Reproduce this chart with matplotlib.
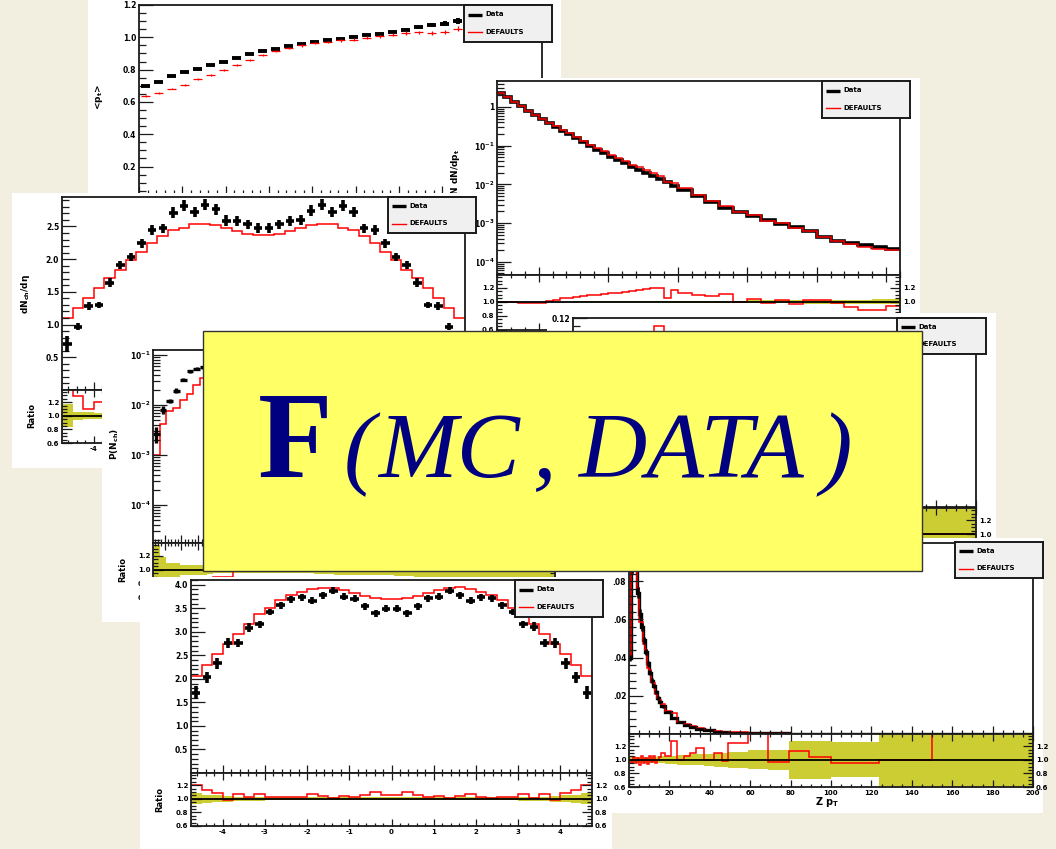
import numpy as np
import matplotlib
matplotlib.use("Agg")
import matplotlib.pyplot as plt
from matplotlib.patches import Rectangle
from matplotlib.ticker import MultipleLocator, LogLocator, FuncFormatter, NullFormatter

W, H = 1056, 849
CREAM = "#f3efe0"
BAND = "#cccc33"
NAVY = "#000080"

# ---- top: <pt> vs Nch
a_edges = np.arange(0, 94, 3)
a_data = [0.697, 0.724, 0.759, 0.786, 0.806, 0.827, 0.847, 0.874, 0.895, 0.915, 0.930,
          0.946, 0.961, 0.971, 0.981, 0.992, 1.001, 1.012, 1.022, 1.032, 1.047, 1.063,
          1.074, 1.084, 1.100, 1.110, 1.120, 1.130, 1.140, 1.150, 1.160]
a_data_err = [0.004, 0.004, 0.004, 0.004, 0.004, 0.004, 0.004, 0.004, 0.004, 0.004, 0.005,
              0.005, 0.005, 0.005, 0.005, 0.006, 0.006, 0.006, 0.007, 0.007, 0.008, 0.010,
              0.012, 0.015, 0.018, 0.020, 0.022, 0.025, 0.028, 0.030, 0.035]
a_mc = [0.636, 0.656, 0.683, 0.703, 0.739, 0.765, 0.796, 0.827, 0.858, 0.889, 0.915,
        0.936, 0.950, 0.964, 0.973, 0.981, 0.985, 0.998, 1.006, 1.016, 1.026, 1.032,
        1.026, 1.032, 1.053, 1.060, 1.070, 1.070, 1.080, 1.090, 1.100]
a_mc_err = [0.006, 0.006, 0.006, 0.006, 0.006, 0.006, 0.006, 0.006, 0.006, 0.006, 0.006,
            0.007, 0.007, 0.007, 0.007, 0.007, 0.008, 0.008, 0.008, 0.009, 0.010, 0.010,
            0.012, 0.012, 0.014, 0.015, 0.016, 0.018, 0.020, 0.022, 0.025]

# ---- dN/dpt (log)
b_edges = [0.4, 0.5, 0.6, 0.7, 0.8, 0.9, 1.0, 1.1, 1.2, 1.3, 1.4, 1.5, 1.6, 1.7, 1.8, 1.9,
           2.0, 2.1, 2.2, 2.3, 2.4, 2.5, 2.6, 2.7, 2.8, 2.9, 3.0, 3.2, 3.4, 3.6, 3.8, 4.0,
           4.2, 4.4, 4.6, 4.8, 5.0, 5.2, 5.4, 5.6, 5.8, 6.0, 6.2]
b_data_log = [0.37, 0.26, 0.14, 0.03, -0.10, -0.21, -0.31, -0.41, -0.51, -0.61, -0.71,
              -0.81, -0.91, -1.01, -1.10, -1.19, -1.28, -1.37, -1.46, -1.55, -1.63, -1.71,
              -1.79, -1.87, -1.95, -2.03, -2.15, -2.31, -2.46, -2.60, -2.71, -2.82, -2.93,
              -3.02, -3.11, -3.21, -3.36, -3.45, -3.51, -3.56, -3.62, -3.68]
b_ratio = [1.00, 1.00, 1.00, 0.99, 0.98, 0.98, 0.98, 1.01, 1.03, 1.05, 1.06, 1.07, 1.08,
           1.09, 1.10, 1.11, 1.12, 1.12, 1.14, 1.15, 1.17, 1.18, 1.19, 1.20, 1.05, 1.17,
           1.12, 1.10, 1.08, 1.11, 1.00, 1.04, 0.98, 1.03, 0.97, 1.02, 1.03, 0.98, 0.92,
           0.89, 0.88, 0.94]
b_band = [0.003, 0.003, 0.003, 0.003, 0.003, 0.003, 0.004, 0.004, 0.004, 0.004, 0.004,
          0.005, 0.005, 0.005, 0.005, 0.006, 0.006, 0.006, 0.007, 0.007, 0.007, 0.008,
          0.008, 0.009, 0.009, 0.010, 0.012, 0.013, 0.014, 0.016, 0.018, 0.019, 0.020,
          0.022, 0.023, 0.025, 0.026, 0.028, 0.030, 0.032, 0.034, 0.036]

# ---- dNch/deta (middle left) and (bottom left)
eta_edges = np.linspace(-4.75, 4.75, 39)
c_data = [0.70, 0.97, 1.28, 1.30, 1.64, 1.91, 2.03, 2.24, 2.45, 2.47, 2.71, 2.82, 2.72,
          2.83, 2.76, 2.59, 2.58, 2.53, 2.48, 2.48, 2.53, 2.58, 2.60, 2.74, 2.83, 2.72,
          2.82, 2.72, 2.47, 2.45, 2.24, 2.03, 1.91, 1.64, 1.30, 1.28, 0.97, 0.70]
c_mc = [1.10, 1.25, 1.41, 1.56, 1.71, 1.83, 1.98, 2.11, 2.24, 2.35, 2.44, 2.48, 2.53,
        2.54, 2.52, 2.48, 2.43, 2.39, 2.37, 2.37, 2.39, 2.43, 2.48, 2.52, 2.54, 2.53,
        2.48, 2.44, 2.35, 2.24, 2.11, 1.98, 1.83, 1.71, 1.56, 1.41, 1.25, 1.10]
c_band = [0.17, 0.06, 0.05, 0.04, 0.04, 0.03, 0.03, 0.03, 0.03, 0.03, 0.03, 0.03, 0.03,
          0.03, 0.03, 0.03, 0.03, 0.03, 0.03, 0.03, 0.03, 0.03, 0.03, 0.03, 0.03, 0.03,
          0.03, 0.03, 0.03, 0.03, 0.03, 0.03, 0.03, 0.04, 0.04, 0.05, 0.06, 0.17]

e_data = [1.71, 2.03, 2.33, 2.76, 2.77, 3.09, 3.16, 3.42, 3.56, 3.69, 3.73, 3.66, 3.78,
          3.87, 3.74, 3.70, 3.54, 3.39, 3.49, 3.49, 3.39, 3.54, 3.71, 3.74, 3.87, 3.78,
          3.66, 3.73, 3.71, 3.56, 3.42, 3.16, 3.11, 2.77, 2.76, 2.33, 2.03, 1.71]
e_mc = [2.07, 2.29, 2.52, 2.73, 2.96, 3.16, 3.37, 3.51, 3.68, 3.78, 3.85, 3.90, 3.92,
        3.92, 3.88, 3.82, 3.76, 3.71, 3.69, 3.69, 3.71, 3.76, 3.82, 3.88, 3.92, 3.95,
        3.90, 3.85, 3.78, 3.68, 3.51, 3.37, 3.16, 2.96, 2.73, 2.52, 2.29, 2.07]
e_band = [0.08, 0.06, 0.05, 0.04, 0.03, 0.03, 0.025, 0.02, 0.02, 0.02, 0.02, 0.02, 0.02,
          0.02, 0.02, 0.02, 0.02, 0.02, 0.02, 0.02, 0.02, 0.02, 0.02, 0.02, 0.02, 0.02,
          0.02, 0.02, 0.02, 0.02, 0.02, 0.025, 0.03, 0.03, 0.04, 0.05, 0.06, 0.08]

# ---- P(Nch) (log)
d_edges = [1.5, 3.5, 5.5, 7.5, 9.5, 11.5, 13.5, 15.5, 17.5, 19.5, 25.5, 31.5, 37.5, 43.5,
           49.5, 55.5, 61.5, 67.5, 73.5, 79.5, 85.5, 91.5, 97.5, 103.5, 109.5, 115.5, 121.5]
d_data_log = [-2.57, -2.10, -1.92, -1.71, -1.49, -1.32, -1.27, -1.24, -1.22, -1.23, -1.30,
              -1.42, -1.58, -1.76, -1.95, -2.15, -2.36, -2.58, -2.80, -3.03, -3.26, -3.50,
              -3.74, -3.98, -4.22, -4.45]
d_mc_log = [-3.00, -2.38, -2.12, -2.05, -1.90, -1.78, -1.60, -1.45, -1.35, -1.28, -1.29,
            -1.43, -1.59, -1.77, -1.96, -2.16, -2.37, -2.59, -2.81, -3.04, -3.27, -3.51,
            -3.75, -3.99, -4.23, -4.46]
d_band = [0.35, 0.18, 0.10, 0.10, 0.07, 0.07, 0.07, 0.07, 0.06, 0.05, 0.04, 0.04, 0.04,
          0.05, 0.06, 0.07, 0.08, 0.08, 0.09, 0.10, 0.10, 0.11, 0.12, 0.12, 0.13, 0.15]

# ---- hidden panel behind the title box
g_edges = np.linspace(0, 100, 41)
g_data = [0.0005, 0.001, 0.008, 0.026, 0.050, 0.075, 0.092, 0.100, 0.102, 0.098, 0.090,
          0.078, 0.065, 0.052, 0.041, 0.032, 0.024, 0.018, 0.013, 0.0095, 0.007, 0.005,
          0.0036, 0.0026, 0.0019, 0.0014, 0.001, 0.0008, 0.0006, 0.0004, 0.0003, 0.00025,
          0.0002, 0.00015, 0.0001, 0.00008, 0.00006, 0.00005, 0.00004, 0.00003]
g_mc = [0.0004, 0.002, 0.010, 0.030, 0.055, 0.080, 0.098, 0.108, 0.115, 0.104, 0.090,
        0.075, 0.060, 0.047, 0.036, 0.027, 0.020, 0.015, 0.011, 0.008, 0.006, 0.0045,
        0.0033, 0.0024, 0.0018, 0.0013, 0.001, 0.0007, 0.0005, 0.0004, 0.0003, 0.0002,
        0.00015, 0.0001, 0.0001, 0.00008, 0.00006, 0.00005, 0.00004, 0.00003]
g_band = [0.5, 0.3, 0.1, 0.05, 0.03, 0.02, 0.02, 0.02, 0.02, 0.02, 0.02, 0.02, 0.03, 0.03,
          0.03, 0.04, 0.04, 0.05, 0.06, 0.07, 0.08, 0.09, 0.10, 0.12, 0.14, 0.16, 0.18,
          0.20, 0.22, 0.25, 0.28, 0.30, 0.33, 0.36, 0.40, 0.45, 0.50, 0.50, 0.50, 0.50]

# ---- z*pt (bottom right)
f_edges = [0, 1, 2, 3, 4, 5, 6, 7, 8, 9, 10, 11, 12, 13, 14, 15, 16, 18, 21, 24, 27, 30,
           33, 37, 42, 46, 49, 59, 69, 79, 89, 100, 124, 150, 200]
f_data = [0.040, 0.088, 0.098, 0.090, 0.074, 0.063, 0.056, 0.049, 0.043, 0.037, 0.032,
          0.028, 0.025, 0.022, 0.019, 0.017, 0.0145, 0.0115, 0.0085, 0.0062, 0.0048,
          0.0037, 0.0028, 0.0019, 0.0013, 0.0010, 0.0007, 0.0004, 0.0003, 0.0002,
          0.00015, 0.0001, 0.00006, 0.00003]
f_ratio = [1.00, 0.96, 1.04, 0.95, 1.03, 0.93, 1.05, 0.96, 1.02, 0.94, 1.05, 0.97, 1.06,
           0.95, 1.00, 1.04, 1.10, 1.05, 1.28, 1.00, 1.06, 1.10, 1.18, 1.00, 1.10, 0.98,
           1.25, 1.45, 0.97, 1.13, 1.04, 0.95, 1.00, 5.00]
f_band = [0.04, 0.04, 0.04, 0.04, 0.04, 0.04, 0.04, 0.04, 0.04, 0.04, 0.04, 0.045, 0.045,
          0.045, 0.05, 0.05, 0.05, 0.06, 0.06, 0.07, 0.07, 0.08, 0.08, 0.09, 0.10, 0.10,
          0.12, 0.14, 0.15, 0.28, 0.28, 0.26, 0.40, 0.40]

plt.rcParams["font.family"] = ["DejaVu Sans"]
plt.rcParams["font.weight"] = "bold"
plt.rcParams["mathtext.default"] = "bf"

fig = plt.figure(figsize=(W / 100, H / 100), dpi=100, facecolor=CREAM)


def rect(x0, y0, x1, y1):
    return [x0 / W, 1 - y1 / H, (x1 - x0) / W, (y1 - y0) / H]


def page(x0, y0, x1, y1, z):
    fig.add_artist(Rectangle((x0 / W, 1 - y1 / H), (x1 - x0) / W, (y1 - y0) / H,
                             transform=fig.transFigure, facecolor="white",
                             edgecolor="none", zorder=z))


def frame(x0, y0, x1, y1, z):
    ax = fig.add_axes(rect(x0, y0, x1, y1), zorder=z)
    for s in ax.spines.values():
        s.set_linewidth(1.3)
        s.set_color("#1a1a1a")
    ax.tick_params(which="both", direction="in", width=0.9, color="#1a1a1a",
                   labelsize=5.5, pad=2)
    return ax


def only(keep, fmt):
    # label only the ticks that stay visible in the collage
    return FuncFormatter(lambda v, p: fmt % v if any(abs(v - k) < 1e-6 for k in keep) else "")


def main_style(ax, ymaj=None, ymin=None, xmaj=None, xmin=None, fmt="%.1f"):
    ax.tick_params(axis="y", which="major", length=10)
    ax.tick_params(axis="y", which="minor", length=5)
    ax.tick_params(axis="x", which="major", length=6, labelbottom=False)
    ax.tick_params(axis="x", which="minor", length=3)
    if ymaj:
        ax.yaxis.set_major_locator(MultipleLocator(ymaj))
        ax.yaxis.set_minor_locator(MultipleLocator(ymin))
        ax.yaxis.set_major_formatter(FuncFormatter(lambda v, p: "" if abs(v) < 1e-9 else fmt % v))
    if xmaj:
        ax.xaxis.set_major_locator(MultipleLocator(xmaj))
        ax.xaxis.set_minor_locator(MultipleLocator(xmin))


def log_style(ax, lo, hi):
    ax.set_yscale("log")
    ax.set_ylim(10 ** lo, 10 ** hi)
    ax.yaxis.set_major_locator(LogLocator(10, numticks=12))
    ax.yaxis.set_minor_locator(LogLocator(10, subs=np.arange(2, 10), numticks=12))
    ax.yaxis.set_minor_formatter(NullFormatter())
    ax.yaxis.set_major_formatter(FuncFormatter(
        lambda v, p: "1" if abs(np.log10(v)) < 0.01 else r"$10^{%d}$" % round(np.log10(v))))


def ylabel(x, y, s, z, size=6.5):
    fig.text(x / W, 1 - y / H, s, rotation=90, ha="center", va="center",
             fontsize=size, zorder=z)


def legend(x0, y0, x1, y1, z):
    lg = fig.add_axes(rect(x0, y0, x1, y1), zorder=z)
    lg.set_xlim(0, 1)
    lg.set_ylim(0, 1)
    lg.set_xticks([])
    lg.set_yticks([])
    lg.set_facecolor("#f0f0f0")
    for s in lg.spines.values():
        s.set_linewidth(1.4)
        s.set_color("#1a1a1a")
    lg.plot([0.04, 0.2], [0.74, 0.74], color="black", lw=2.4, solid_capstyle="butt")
    lg.text(0.24, 0.76, "Data", fontsize=5, va="center")
    lg.plot([0.04, 0.2], [0.26, 0.26], color="red", lw=1.0)
    lg.text(0.24, 0.28, "DEFAULTS", fontsize=5, va="center")


def ratio_panel(x0, y0, x1, y1, z, edges, ratio, band, xlim, xmaj, xmin, xfmt=None,
                left=True, right=True):
    ax = frame(x0, y0, x1, y1, z)
    e = np.asarray(edges, float)
    b = np.asarray(band, float)
    ax.stairs(1 + b, e, baseline=1 - b, fill=True, color=BAND, lw=0)
    ax.axhline(1.0, color="black", lw=1.3)
    ax.stairs(np.asarray(ratio, float), e, baseline=None, color="red", lw=1.1)
    ax.set_xlim(*xlim)
    ax.set_ylim(0.6, 1.38)
    ax.yaxis.set_major_locator(MultipleLocator(0.2))
    ax.yaxis.set_minor_locator(MultipleLocator(0.05))
    ax.yaxis.set_major_formatter(FuncFormatter(lambda v, p: "%.1f" % v))
    ax.xaxis.set_major_locator(MultipleLocator(xmaj))
    ax.xaxis.set_minor_locator(MultipleLocator(xmin))
    ax.tick_params(which="both", top=True, right=True, labelright=right, labelleft=left,
                   labelsize=5)
    if xfmt is None:
        ax.tick_params(labelbottom=False)
    else:
        ax.xaxis.set_major_formatter(xfmt)
    ax.tick_params(axis="y", which="major", length=7)
    ax.tick_params(axis="y", which="minor", length=3.5)
    ax.tick_params(axis="x", which="major", length=5)
    ax.tick_params(axis="x", which="minor", length=2.5)
    return ax


def crosses(ax, edges, vals, yerr, color="black", lw=2.6, frac=0.45):
    e = np.asarray(edges, float)
    x = (e[:-1] + e[1:]) / 2
    ax.errorbar(x, vals, xerr=(e[1:] - e[:-1]) * frac, yerr=yerr, fmt="none",
                ecolor=color, elinewidth=lw)


# ---------------- panel A: <pt>
page(88, 0, 561, 200, 1)
axA = frame(139, 5, 542, 194, 1.1)
main_style(axA, 0.2, 0.05, 10, 2)
crosses(axA, a_edges, a_data, a_data_err, lw=2.8, frac=0.36)
crosses(axA, a_edges, a_mc, a_mc_err, color="red", lw=0.9, frac=0.36)
axA.set_xlim(0, 93)
axA.set_ylim(0.03, 1.2)
legend(464, 5, 552, 42, 1.2)
ylabel(99, 97, r"<p$_{t}$>", 1.15)

# ---------------- panel B: dN/dpt
page(445, 78, 920, 332, 2)
axB = frame(497, 81, 900, 275, 2.1)
main_style(axB, xmaj=1, xmin=0.2)
b_data = 10 ** np.array(b_data_log)
b_mc = b_data * np.array(b_ratio)
axB.stairs(b_data, b_edges, baseline=None, color="black", lw=2.6)
axB.stairs(b_mc, b_edges, baseline=None, color="red", lw=1.1)
axB.set_xlim(0.4, 6.2)
log_style(axB, -4.34, 0.67)
legend(822, 81, 910, 118, 2.2)
ylabel(455, 176, r"1/N dN/dp$_{t}$", 2.15)
ratio_panel(497, 275, 900, 330, 2.1, b_edges, b_ratio, b_band, (0.4, 6.2), 1, 0.2)

# ---------------- panel C: dN/deta
page(12, 193, 477, 468, 3)
axC = frame(62, 197, 465, 390, 3.1)
main_style(axC, 0.5, 0.1, 1, 0.2)
crosses(axC, eta_edges, c_data, np.array(c_data) * np.array(c_band), frac=0.4)
axC.stairs(c_mc, eta_edges, baseline=None, color="red", lw=1.1)
axC.set_xlim(-4.75, 4.75)
axC.set_ylim(0, 2.95)
legend(388, 197, 476, 233, 3.2)
ylabel(25, 294, r"dN$_{ch}$/d$\eta$", 3.15)
ylabel(32, 416, "Ratio", 3.15, 6)
ratio_panel(62, 390, 465, 443, 3.1, eta_edges, np.array(c_mc) / np.array(c_data), c_band,
            (-4.75, 4.75), 1, 0.2, only([-4], "%d"), right=False)

# ---------------- panel G: hidden behind the title box
page(547, 313, 996, 540, 4)
axG = frame(573, 318, 976, 508, 4.1)
main_style(axG, 0.02, 0.005, 10, 2.5)
axG.yaxis.set_major_formatter(only([0.12], "%.2f"))
crosses(axG, g_edges, g_data, np.array(g_data) * np.array(g_band), frac=0.5)
axG.stairs(g_mc, g_edges, baseline=None, color="red", lw=1.1)
axG.set_xlim(0, 100)
axG.set_ylim(0, 0.12)
legend(897, 318, 986, 354, 4.2)
axGr = ratio_panel(573, 508, 976, 562, 4.1, g_edges, np.array(g_mc) / np.array(g_data),
                   g_band, (0, 100), 10, 2.5, left=False)
axGr.yaxis.set_major_formatter(only([1.2, 1.0], "%.1f"))

# ---------------- panel D: P(Nch)
page(102, 338, 612, 622, 5)
axD = frame(153, 350, 555, 543, 5.1)
main_style(axD, xmaj=5, xmin=1)
d_data = 10 ** np.array(d_data_log)
d_mc = 10 ** np.array(d_mc_log)
crosses(axD, d_edges, d_data, d_data * np.array(d_band), lw=2.4, frac=0.5)
axD.stairs(d_mc, d_edges, baseline=None, color="red", lw=1.1)
axD.set_xlim(1.5, 121.5)
log_style(axD, -4.76, -0.9)
ylabel(115, 444, r"P(N$_{ch}$)", 5.15)
ylabel(123, 570, "Ratio", 5.15, 6)
ratio_panel(153, 543, 555, 598, 5.1, d_edges, d_mc / d_data, d_band, (1.5, 121.5), 5, 1)

# ---------------- panel E: dN/deta
page(140, 577, 612, 849, 6)
axE = frame(191, 580, 592, 773, 6.1)
main_style(axE, 0.5, 0.1, 1, 0.2)
crosses(axE, eta_edges, e_data, np.array(e_data) * np.array(e_band), frac=0.4)
axE.stairs(e_mc, eta_edges, baseline=None, color="red", lw=1.1)
axE.set_xlim(-4.75, 4.75)
axE.set_ylim(0, 4.1)
legend(515, 580, 603, 617, 6.2)
ylabel(160, 800, "Ratio", 6.15, 6)
ratio_panel(191, 773, 592, 826, 6.1, eta_edges, np.array(e_mc) / np.array(e_data), e_band,
            (-4.75, 4.75), 1, 0.2, FuncFormatter(lambda v, p: "%d" % round(v)))

# ---------------- panel F: z pt
page(612, 538, 1043, 813, 7)
axF = frame(629, 543, 1033, 734, 7.1)
main_style(axF, xmaj=20, xmin=5)
axF.yaxis.set_major_locator(MultipleLocator(0.02))
axF.yaxis.set_minor_locator(MultipleLocator(0.004))
axF.yaxis.set_major_formatter(FuncFormatter(
    lambda v, p: "" if v < 0.01 or v > 0.09 else ("%.2f" % v)[1:]))
f_mc = np.array(f_data) * np.array(f_ratio)
axF.stairs(f_data, f_edges, baseline=None, color="black", lw=2.4)
crosses(axF, f_edges, f_data, np.array(f_data) * np.array(f_band), lw=1.8, frac=0.5)
axF.stairs(f_mc, f_edges, baseline=None, color="red", lw=1.1)
axF.set_xlim(0, 200)
axF.set_ylim(0, 0.1)
legend(955, 542, 1043, 578, 7.2)
ratio_panel(629, 734, 1033, 787, 7.1, f_edges, f_ratio, f_band, (0, 200), 20, 5,
            FuncFormatter(lambda v, p: "%d" % round(v)))
fig.text(827 / W, 1 - 802 / H, r"Z p$_{T}$", fontsize=7, ha="center", va="center",
         zorder=7.15)

# ---------------- title box
fig.add_artist(Rectangle((203 / W, 1 - 571 / H), (922 - 203) / W, (571 - 331) / H,
                         transform=fig.transFigure, facecolor="#ffff66",
                         edgecolor="#333333", lw=1.0, zorder=10))
serif = "Liberation Serif"
base = 1 - 477 / H
fig.text(258 / W, base, "F", fontfamily=serif, fontweight="bold", fontsize=88,
         color=NAVY, va="baseline", zorder=11)
for x, s in [(344, "("), (378, "MC"), (533, ","), (578, "DATA"), (820, ")")]:
    fig.text(x / W, base, s, fontfamily=serif, fontweight="normal", fontstyle="italic",
             fontsize=68, color=NAVY, va="baseline", zorder=11)

fig.savefig("out.png", dpi=100, facecolor=CREAM)
